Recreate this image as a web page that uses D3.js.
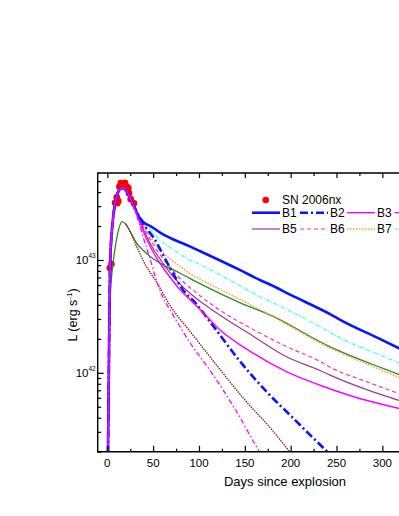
<!DOCTYPE html>
<html><head><meta charset="utf-8">
<script src="https://cdn.jsdelivr.net/npm/d3@7"></script>
<style>body{margin:0;background:#fff;}svg{display:block;font-family:"Liberation Sans",Arial,sans-serif;}</style>
</head><body><svg id="chart" width="399" height="516"></svg>
<script>
// ---------- data (L in units of 1e42 erg/s, time in days since explosion) ----------
const obsDays = [2.7, 4.6, 8.4, 10.9, 10.3, 12.0, 13.1, 14.6, 17.5, 19.3, 21.2, 22.9, 23.7, 25.5, 29.1];
const obsL    = [8.5, 9.2, 32.2, 31.8, 36.0, 33.3, 44.5, 48.0, 44.7, 48.2, 44.7, 43.3, 39.1, 34.6, 31.8];

// common rise of the B models
const riseDays = [0.3, 1, 1.5, 2, 3, 4, 6, 8, 10, 13, 17, 21, 25];
const riseL    = [0.1, 0.316, 0.794, 2.0, 8.9, 14.1, 22.4, 30.2, 36.3, 41.7, 43.7, 40.7, 35.5];

const b1Days = [30, 34, 40, 47, 58, 70, 90, 101, 145, 167, 178, 200, 243, 254, 300, 330];
const b1L    = [28.8, 24.5, 21.4, 20.0, 17.4, 15.5, 13.2, 12.0, 8.13, 6.61, 6.03, 4.90, 3.31, 2.95, 1.95, 1.48];
const b2Days = [30, 35, 40, 52, 58, 69, 83, 96, 116, 141, 174, 200, 240, 260];
const b2L    = [28.8, 24.0, 20.4, 15.1, 12.3, 8.32, 5.37, 4.17, 2.57, 1.38, 0.676, 0.417, 0.200, 0.141];
const b3Days = [30, 40, 50, 60, 70, 80, 90, 100, 123, 160, 196, 232, 268, 320, 330];
const b3L    = [28.2, 17.4, 11.7, 8.71, 6.76, 5.37, 4.47, 3.72, 2.40, 1.48, 1.02, 0.776, 0.617, 0.479, 0.457];
const b4Days = [30, 35, 40, 47, 52, 60, 69, 90, 112, 140, 163, 175];
const b4L    = [27.5, 20.9, 15.1, 10.0, 7.24, 4.79, 3.55, 1.86, 1.05, 0.468, 0.219, 0.151];
const b5Days = [30, 40, 50, 60, 70, 80, 100, 114, 123, 160, 196, 232, 243, 280, 320, 330];
const b5L    = [28.2, 18.2, 12.6, 9.55, 7.41, 6.03, 4.37, 3.63, 3.24, 2.09, 1.38, 1.05, 0.955, 0.724, 0.562, 0.525];
const b6Days = [30, 40, 50, 60, 70, 80, 100, 120, 160, 196, 232, 243, 280, 320, 330];
const b6L    = [28.8, 19.1, 13.8, 10.5, 8.32, 6.76, 4.90, 3.72, 2.40, 1.70, 1.26, 1.12, 0.851, 0.646, 0.603];
const b7Days = [30, 40, 45, 58, 80, 90, 101, 145, 178, 243, 254, 300, 330];
const b7L    = [28.8, 20.4, 17.0, 12.3, 8.71, 7.59, 6.76, 4.47, 3.24, 1.66, 1.51, 1.05, 0.832];
const b8Days = [30, 40, 47, 58, 69, 90, 101, 145, 167, 178, 243, 254, 300, 330];
const b8L    = [28.8, 21.9, 18.6, 14.8, 12.9, 10.0, 9.12, 5.89, 4.68, 4.27, 2.29, 2.04, 1.41, 1.12];

// extra models (no legend entry visible)
const greenDays = [0.3, 1, 2, 3.3, 5, 8, 12, 16, 20, 25, 32, 40, 47, 58, 80, 101, 145, 178, 243, 300, 330];
const greenL    = [0.05, 0.316, 2.0, 5.01, 7.59, 12.0, 18.2, 21.9, 20.9, 17.8, 14.1, 12.0, 10.7, 9.33, 7.59, 6.17, 4.17, 3.24, 1.70, 1.10, 0.891];
const brownDays = [20, 25, 32, 40, 54, 69, 90, 123, 150, 178, 199, 215];
const brownL    = [20.9, 17.8, 13.2, 9.55, 6.31, 3.89, 2.34, 1.07, 0.575, 0.324, 0.200, 0.141];

const xMajor = [0, 50, 100, 150, 200, 250, 300];
const xMinor = [25, 75, 125, 175, 225, 275, 325];
const yMajor = [1e42, 1e43];
const yMajorExp = ["42", "43"];

// ---------- layout ----------
const svg = d3.select("#chart");
const pL = 97.7, pR = 420, pT = 173, pB = 451.7;
const x = d3.scaleLinear().domain([-10.5, 330]).range([pL, pL + 340.5 * 0.9167]);
const y = d3.scaleLog().domain([2.0e41, 5.9e43]).range([pB, pT]);

const defs = svg.append("defs");
defs.append("clipPath").attr("id", "plotclip").append("rect")
  .attr("x", pL).attr("y", pT).attr("width", pR - pL).attr("height", pB - pT);

const plot = svg.append("g").attr("clip-path", "url(#plotclip)");

const toPts = (days, L) => days.map((d, i) => [d, L[i] * 1e42]);
const line = d3.line().x(d => x(d[0])).y(d => y(d[1])).curve(d3.curveMonotoneX);
const riseTail = (days, L) => toPts(riseDays, riseL).concat(toPts(days, L));

// observed points first
plot.selectAll("circle.obs").data(obsDays.map((d, i) => [d, obsL[i] * 1e42])).join("circle")
  .attr("class", "obs").attr("cx", d => x(d[0])).attr("cy", d => y(d[1])).attr("r", 3.3)
  .attr("fill", "#ff0000");

const series = [
  {pts: toPts(greenDays, greenL), color: "#2a8a2a", w: 1.3, dash: null},
  {pts: toPts(brownDays, brownL), color: "#7a1f12", w: 1.3, dash: "1.5,1"},
  {pts: riseTail(b8Days, b8L), color: "#33ffff", w: 1.2, dash: "4,1.5,1,1.5"},
  {pts: riseTail(b7Days, b7L), color: "#ff9933", w: 1.5, dash: "1.5,1.5"},
  {pts: riseTail(b6Days, b6L), color: "#ff3399", w: 1.2, dash: "4,3"},
  {pts: riseTail(b5Days, b5L), color: "#9b3a9b", w: 1.2, dash: null},
  {pts: riseTail(b1Days, b1L), color: "#0a14ff", w: 2.6, dash: null},
  {pts: riseTail(b2Days, b2L), color: "#0a14ff", w: 2.6, dash: "8,3,2,3"},
  {pts: riseTail(b3Days, b3L), color: "#ff00ff", w: 1.4, dash: null},
  {pts: riseTail(b4Days, b4L), color: "#ff00ff", w: 1.3, dash: "5,2.5,1.5,2.5"}
];
series.forEach(s => {
  plot.append("path").attr("d", line(s.pts)).attr("fill", "none")
    .attr("stroke", s.color).attr("stroke-width", s.w)
    .attr("stroke-dasharray", s.dash);
});

// ---------- axes ----------
const axG = svg.append("g");
function addAxis(gen, tr) {
  const g = axG.append("g").attr("transform", tr).call(gen);
  g.select(".domain").remove();
  g.selectAll("text").remove();
  g.selectAll("line").attr("stroke", "#000").attr("stroke-width", 1.2);
}
addAxis(d3.axisBottom(x).tickValues(xMajor).tickSize(-6), `translate(0,${pB})`);
addAxis(d3.axisBottom(x).tickValues(xMinor).tickSize(-3), `translate(0,${pB})`);
addAxis(d3.axisTop(x).tickValues(xMajor).tickSize(-5), `translate(0,${pT})`);
addAxis(d3.axisTop(x).tickValues(xMinor).tickSize(-3), `translate(0,${pT})`);
const yMinor = [];
[1e41, 1e42, 1e43].forEach(b => { for (let k = 2; k <= 9; k++) { const v = k * b; if (v >= 2e41 && v <= 5.9e43) yMinor.push(v); } });
addAxis(d3.axisLeft(y).tickValues(yMajor).tickSize(-6), `translate(${pL},0)`);
addAxis(d3.axisLeft(y).tickValues(yMinor).tickSize(-3.5), `translate(${pL},0)`);

// frame
axG.append("path").attr("d", `M${pR},${pT}H${pL}V${pB}H${pR}`)
  .attr("fill", "none").attr("stroke", "#000").attr("stroke-width", 1.4);

// tick labels
svg.append("g").selectAll("text").data(xMajor).join("text")
  .attr("x", d => x(d)).attr("y", 467).attr("text-anchor", "middle")
  .attr("font-size", 11.5).attr("fill", "#000").text(d => d);
yMajor.forEach((v, i) => {
  svg.append("text").attr("x", 88.5).attr("y", y(v) + 4.3).attr("text-anchor", "end")
    .attr("font-size", 11.5).text("10");
  svg.append("text").attr("x", 88.5).attr("y", y(v) - 1.5).attr("text-anchor", "start")
    .attr("font-size", 6.5).text(yMajorExp[i]);
});

// axis titles
svg.append("text").attr("x", 285).attr("y", 486).attr("text-anchor", "middle")
  .attr("font-size", 13).text("Days since explosion");
const yt = svg.append("text").attr("transform", "translate(77,315) rotate(-90)")
  .attr("text-anchor", "middle").attr("font-size", 12.5);
yt.append("tspan").text("L (erg s");
yt.append("tspan").attr("dy", -5).attr("font-size", 8).text("-1");
yt.append("tspan").attr("dy", 5).text(")");

// ---------- legend ----------
const legendNames = ["B1", "B2", "B3", "B4", "B5", "B6", "B7", "B8"];
const legendStyle = [
  {color: "#0a14ff", w: 2.6, dash: null},
  {color: "#0a14ff", w: 2.6, dash: "8,3,2,3"},
  {color: "#ff00ff", w: 1.4, dash: null},
  {color: "#ff00ff", w: 1.3, dash: "5,2.5,1.5,2.5"},
  {color: "#9b3a9b", w: 1.2, dash: null},
  {color: "#ff3399", w: 1.2, dash: "4,3"},
  {color: "#ff9933", w: 1.5, dash: "1.5,1.5"},
  {color: "#33ffff", w: 1.2, dash: "4,1.5,1,1.5"}
];
const leg = svg.append("g");
leg.append("circle").attr("cx", 265.7).attr("cy", 200).attr("r", 3.3).attr("fill", "#ff0000");
leg.append("text").attr("x", 282).attr("y", 204.3).attr("font-size", 12).text("SN 2006nx");
const colX = [252, 300, 347, 394.5];
const rowY = [212.7, 229];
legendNames.forEach((n, i) => {
  const cx = colX[i % 4], cy = rowY[Math.floor(i / 4)], st = legendStyle[i];
  leg.append("line").attr("x1", cx).attr("x2", cx + 28).attr("y1", cy).attr("y2", cy)
    .attr("stroke", st.color).attr("stroke-width", st.w).attr("stroke-dasharray", st.dash);
  leg.append("text").attr("x", cx + 30).attr("y", cy + 4.3).attr("font-size", 12).text(n);
});
</script></body></html>
